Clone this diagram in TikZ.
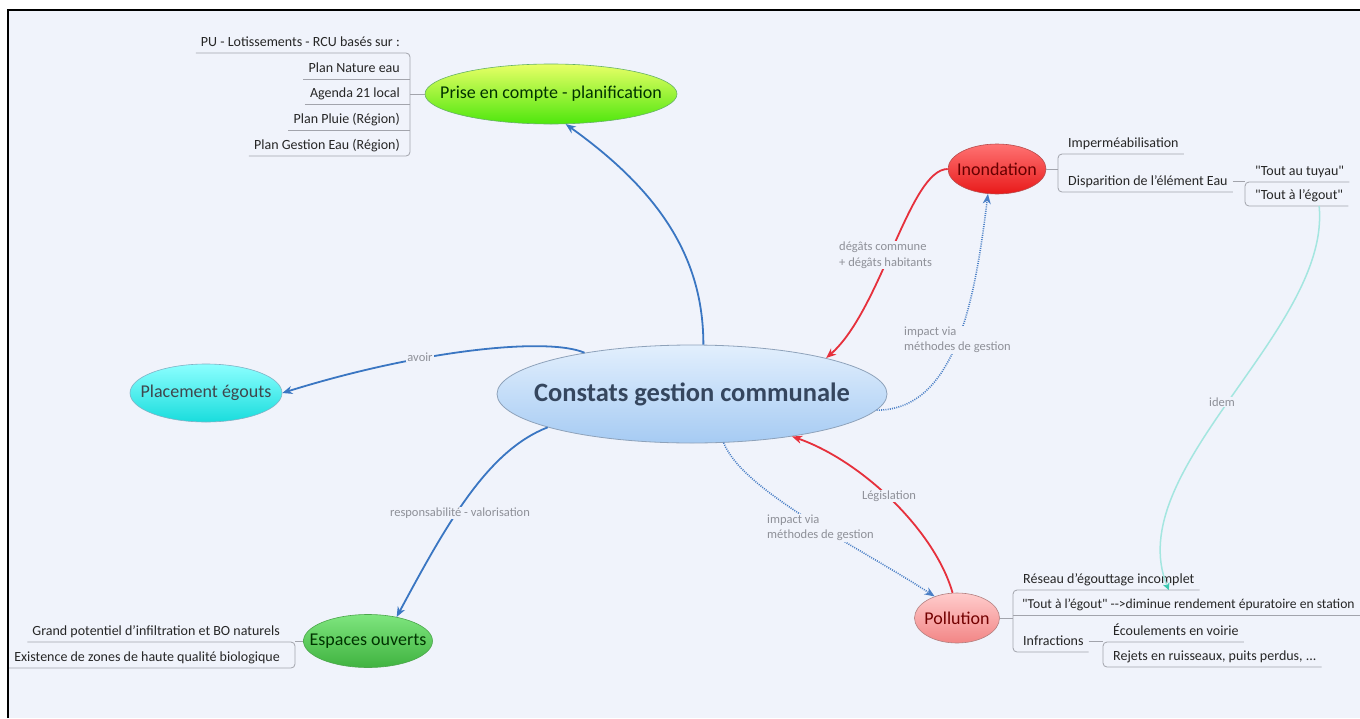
\documentclass[tikz,border=0pt]{standalone}
\usepackage{fontspec}
\setmainfont{Carlito}
\usetikzlibrary{shapes.geometric,arrows.meta}

\definecolor{bg}{HTML}{F0F3FB}
\definecolor{linkblue}{HTML}{3A76C2}
\definecolor{dotblue}{HTML}{4A7FC6}
\definecolor{linkred}{HTML}{E6303C}
\definecolor{linkcyan}{HTML}{A4E6E0}
\definecolor{tipcyan}{HTML}{3CC8B0}
\definecolor{branchgray}{HTML}{A2A4AC}
\definecolor{lblgray}{HTML}{8E9098}
\definecolor{subtext}{HTML}{262626}
\definecolor{cgtop}{HTML}{E2EFFD}
\definecolor{cgbot}{HTML}{A6CBF3}
\definecolor{cgborder}{HTML}{8EA2BA}
\definecolor{cgtext}{HTML}{35465E}

% topic text that does not widen its ellipse
\newcommand{\topictext}[1]{\makebox[0pt]{#1}}

\begin{document}
\begin{tikzpicture}[x=1pt,y=-1pt,
    central/.style={ellipse, draw=cgborder, line width=0.8pt, top color=cgtop, bottom color=cgbot, inner sep=0pt,
        text=cgtext, minimum width=390pt, minimum height=98pt, font=\bfseries\fontsize{26.5}{30}\selectfont},
    topic/.style={ellipse, line width=0.6pt, inner sep=0pt, font=\fontsize{18}{22}\selectfont},
    sub/.style={inner xsep=5pt, inner ysep=6pt, text height=9pt, text depth=0pt, text=subtext,
        font=\fontsize{14}{16}\selectfont},
    lbl/.style={fill=bg, inner sep=1pt, text=lblgray, align=left, font=\fontsize{12.5}{15.5}\selectfont},
    branch/.style={draw=branchgray, line width=0.8pt, rounded corners=4pt},
    link/.style={line width=1.8pt, -{Stealth[length=10pt,width=8pt,inset=3pt]}},
    dots/.style={line width=1.6pt, dash pattern=on 1pt off 1.2pt},
]
    % page and frame
    \useasboundingbox (0,0) rectangle (1360,718);
    \fill[white] (0,0) rectangle (1360,718);
    \fill[bg] (8,10) rectangle (1360,718);
    \draw[line width=1.5pt] (8,718) -- (8,10) -- (1360,10);

    % main topics
    \node[central] (cgc) at (692,394) {\topictext{Constats gestion communale}};
    \node[topic, draw=green!50!black!60, top color=green!15!yellow!60!white, bottom color=green!70!yellow!90!black!95,
        text=green!20!black, minimum width=252pt, minimum height=60pt] (prise) at (551,94) {\topictext{Prise en compte - planification}};
    \node[topic, draw=red!60!black!70, top color=red!55!white, bottom color=red!90!black!90,
        text=red!40!black, minimum width=98pt, minimum height=50pt] (inond) at (997,169) {\topictext{Inondation}};
    \node[topic, draw=cyan!60!black!60, top color=cyan!45!white, bottom color=cyan!85!black!90,
        text=cyan!20!black, minimum width=152pt, minimum height=58pt] (plac) at (206,393) {\topictext{Placement égouts}};
    \node[topic, draw=green!50!black!70, top color=green!45!white!90!black, bottom color=green!60!black!75!white,
        text=green!20!black, minimum width=129pt, minimum height=53pt] (esp) at (368,641) {\topictext{Espaces ouverts}};
    \node[topic, draw=red!40!black!50, top color=red!20!white, bottom color=red!45!white!95!black,
        text=red!45!black, minimum width=85pt, minimum height=50pt] (poll) at (957,618) {\topictext{Pollution}};

    % bracket columns
    \coordinate (bkprise) at (410,0);
    \coordinate (bkinond) at (1058,0);
    \coordinate (bkdisp) at (1245,0);
    \coordinate (bkpoll) at (1013,0);
    \coordinate (bkinfr) at (1103,0);
    \coordinate (bkesp) at (295,0);

    % Prise en compte - planification
    \node[sub, anchor=south east] (pu) at (405,53) {PU - Lotissements - RCU basés sur :};
    \node[sub, anchor=south east] (nature) at (405,79) {Plan Nature eau};
    \node[sub, anchor=south east] (agenda) at (405,104) {Agenda 21 local};
    \node[sub, anchor=south east] (pluie) at (405,130) {Plan Pluie (Région)};
    \node[sub, anchor=south east] (gestion) at (405,156) {Plan Gestion Eau (Région)};
    \draw[branch] (pu.south west) -- (pu.south -| bkprise) -- (gestion.south -| bkprise) -- (gestion.south west);
    \draw[branch] (nature.south west) -- (nature.south -| bkprise);
    \draw[branch] (agenda.south west) -- (agenda.south -| bkprise);
    \draw[branch] (pluie.south west) -- (pluie.south -| bkprise);
    \draw[branch] (prise.west) -- (prise.west -| bkprise);

    % Inondation
    \node[sub, anchor=south west] (imperm) at (1063,154) {Imperméabilisation};
    \node[sub, anchor=south west] (disp) at (1063,192) {Disparition de l'élément Eau};
    \draw[branch] (imperm.south east) -- (imperm.south -| bkinond) -- (disp.south -| bkinond) -- (disp.south east);
    \draw[branch] (inond.east) -- (inond.east -| bkinond);
    \node[sub, anchor=south west] (tuyau) at (1250,182) {\textquotedbl Tout au tuyau\textquotedbl};
    \node[sub, anchor=south west] (egout1) at (1250,206) {\textquotedbl Tout à l'égout\textquotedbl};
    \draw[branch] (tuyau.south east) -- (tuyau.south -| bkdisp) -- (egout1.south -| bkdisp) -- (egout1.south east);
    \draw[branch] (disp.east) -- (disp.east -| bkdisp);

    % Pollution
    \node[sub, anchor=south west] (reseau) at (1018,590) {Réseau d'égouttage incomplet};
    \node[sub, anchor=south west, font=\fontsize{13.6}{16}\selectfont] (toutst) at (1017,615)
        {\textquotedbl Tout à l'égout\textquotedbl{} -{}->diminue rendement épuratoire en station};
    \node[sub, anchor=south west] (infr) at (1018,652) {Infractions};
    \draw[branch] (reseau.south east) -- (reseau.south -| bkpoll) -- (infr.south -| bkpoll) -- (infr.south east);
    \draw[branch] (toutst.south -| bkpoll) -- (toutst.south east);
    \draw[branch] (poll.east) -- (poll.east -| bkpoll);
    \node[sub, anchor=south west] (ecoul) at (1108,642) {Écoulements en voirie};
    \node[sub, anchor=south west] (rejets) at (1108,667) {Rejets en ruisseaux, puits perdus, ...};
    \draw[branch] (ecoul.south east) -- (ecoul.south -| bkinfr) -- (rejets.south -| bkinfr) -- (rejets.south east);
    \draw[branch] (infr.east) -- (infr.east -| bkinfr);

    % Espaces ouverts
    \node[sub, anchor=south east] (grand) at (285,642) {Grand potentiel d'infiltration et BO naturels};
    \node[sub, anchor=south east] (exist) at (285,668) {Existence de zones de haute qualité biologique};
    \draw[branch] (grand.south west) -- (grand.south -| bkesp) -- (exist.south -| bkesp) -- (exist.south west);
    \draw[branch] (esp.west) -- (esp.west -| bkesp);

    % relations
    \draw[link, linkblue] (cgc.77) .. controls +(0,-86) and +(95,68) .. (prise.-64);
    \draw[link, linkblue] (cgc.159) .. controls +(-37,-16) and +(138,-43) .. (plac.east);
    \draw[link, linkblue] (cgc.193) .. controls +(-59,23) and +(52,-97) .. (esp.40);
    \draw[link, linkred] (inond.west) .. controls +(-38,0) and +(55,-48) .. (cgc.15);
    \draw[link, dots, dotblue] (cgc.-5) .. controls +(79,0) and +(-13,106) .. (inond.-110);
    \draw[link, linkred] (poll.100) .. controls +(-18,-63) and +(69,24) .. (cgc.-23);
    \draw[link, dots, dotblue] (cgc.-57) .. controls +(19,48) and +(-80,-52) .. (poll.136);
    \draw[line width=1.5pt, linkcyan, -{Stealth[length=7pt,width=7pt,inset=2pt,color=tipcyan]}]
        ([xshift=20pt]egout1.south) .. controls +(12,124) and +(-49,-120) .. ([xshift=60pt]reseau.south);

    % relation labels
    \node[lbl] (lavoir) at (420,357) {avoir};
    \node[lbl, anchor=west] (ldegats) at (838,255) {dégâts commune\\+ dégâts habitants};
    \node[lbl, anchor=west] (limpact1) at (903,340) {impact via\\méthodes de gestion};
    \node[lbl] (llegis) at (889,496) {Législation};
    \node[lbl, anchor=west] (limpact2) at (766,528) {impact via\\méthodes de gestion};
    \node[lbl] (lrespo) at (460,513) {responsabilité - valorisation};
    \node[lbl] (lidem) at (1222,402) {idem};
\end{tikzpicture}
\end{document}
